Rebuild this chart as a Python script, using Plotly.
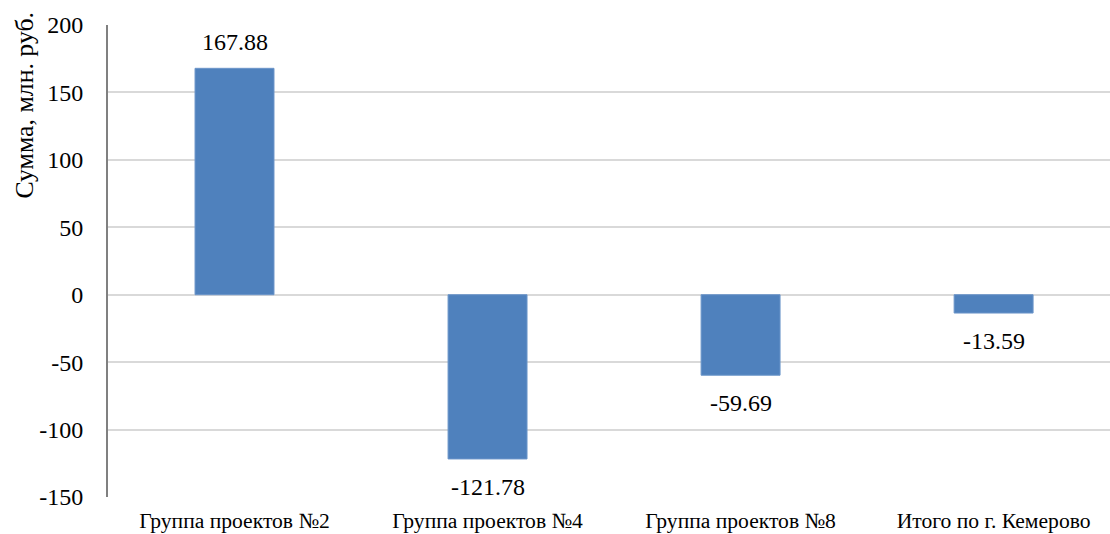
import plotly.graph_objects as go

categories = ["Группа проектов №2", "Группа проектов №4", "Группа проектов №8", "Итого по г. Кемерово"]
values = [167.88, -121.78, -59.69, -13.59]
labels = ["167.88", "-121.78", "-59.69", "-13.59"]
y_ticks = [-150, -100, -50, 0, 50, 100, 150, 200]
y_tick_text = ["-150", "-100", "-50", "0", "50", "100", "150", "200"]

FONT = "Liberation Serif"

fig = go.Figure(go.Bar(
    x=categories, y=values,
    marker=dict(color="#4f81bd", line=dict(color="#6b95c9", width=1)),
    width=0.312,
))

annotations = []
for c, v, t in zip(categories, values, labels):
    annotations.append(dict(
        x=c, y=v, text=t, showarrow=False, xref="x", yref="y",
        yshift=26 if v >= 0 else -28,
        font=dict(family=FONT, size=24, color="#000000"),
    ))
annotations.append(dict(
    text="Сумма, млн. руб.", textangle=-90, xref="paper", yref="paper",
    x=(24 - 108) / 1002, y=1.0, xanchor="center", yanchor="top",
    showarrow=False, font=dict(family=FONT, size=25.8, color="#000000"), yshift=15,
))

fig.update_layout(
    width=1110, height=534,
    margin=dict(l=108, r=0, t=25, b=37),
    paper_bgcolor="white", plot_bgcolor="white",
    showlegend=False,
    font=dict(family=FONT, color="#000000"),
    xaxis=dict(
        range=[-0.5, 3.46], showgrid=False, zeroline=False, showline=False,
        ticks="", tickfont=dict(family=FONT, size=21.6, color="#000000"), ticklabelstandoff=8,
    ),
    yaxis=dict(
        range=[-150, 200], tickvals=y_ticks, ticktext=y_tick_text,
        showgrid=True, gridcolor="#d9d9d9", gridwidth=2,
        zeroline=True, zerolinecolor="#d9d9d9", zerolinewidth=2,
        showline=True, linecolor="#808080", linewidth=2,
        ticks="", tickfont=dict(family=FONT, size=24, color="#000000"), ticklabelstandoff=18,
    ),
    annotations=annotations,
)

fig.write_html("out.html")
